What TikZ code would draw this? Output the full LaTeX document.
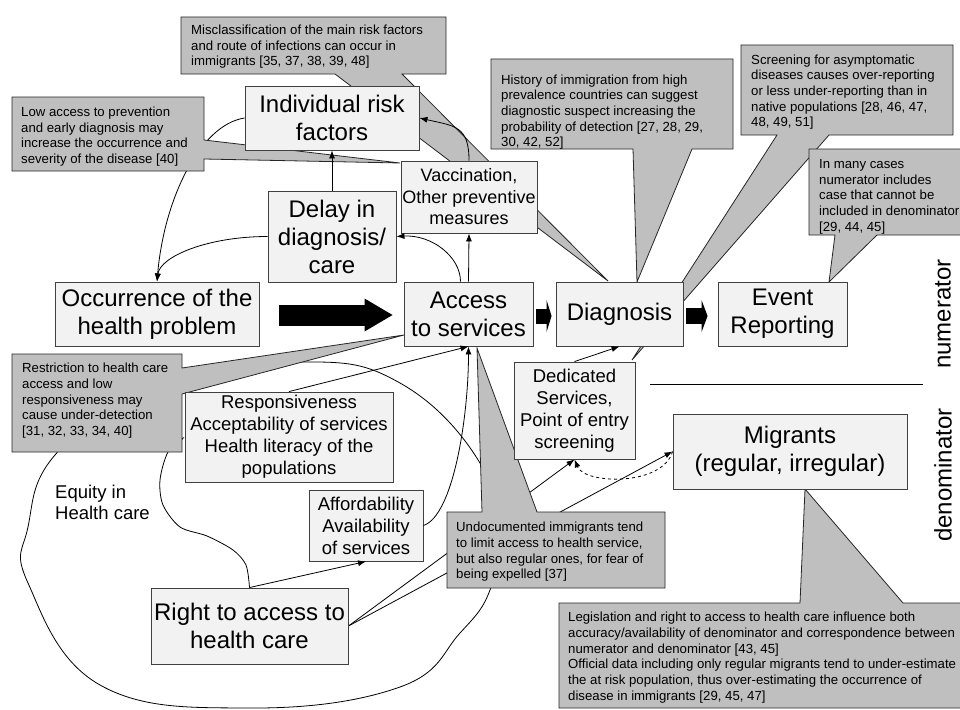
\documentclass[tikz,border=0pt]{standalone}
\usepackage{fontspec}
\setmainfont{Liberation Sans}
\usetikzlibrary{arrows.meta}

\pgfdeclarelayer{back}
\pgfdeclarelayer{notes}
\pgfsetlayers{back,notes,main}

\begin{document}
\begin{tikzpicture}[x=1pt, y=-1pt,
    box/.style={draw=black!75, line width=0.9pt, fill=gray!10, inner sep=0pt, align=center},
    bigtext/.style={font=\fontsize{24}{28}\selectfont},
    midtext/.style={font=\fontsize{18.5}{22}\selectfont},
    note/.style={draw=black!85, line width=0.8pt, fill=gray!50},
    notetext/.style={font=\fontsize{13.2}{15.7}\selectfont, align=left, inner sep=0pt, anchor=base west},
    link/.style={line width=0.8pt, -{Latex[length=8pt,width=6pt]}}]
		\useasboundingbox (0,0) rectangle (960,709);

		% boxes
		\node[box, bigtext, minimum width=174pt, minimum height=64pt] (risk) at (332,118) {Individual risk\\factors};
		\node[box, bigtext, minimum width=128pt, minimum height=91pt] (delay) at (332,236.5) {Delay in\\diagnosis/\\care};
		\node[box, font=\fontsize{18}{21.5}\selectfont, minimum width=136pt, minimum height=72pt] (vacc) at (469,197) {Vaccination,\\Other preventive\\measures};
		\node[box, bigtext, minimum width=204pt, minimum height=64pt] (occur) at (157,314) {Occurrence of the\\health problem};
		\node[box, bigtext, minimum width=129pt, minimum height=64pt] (access) at (468.5,314) {Access\\to services};
		\node[box, bigtext, minimum width=127pt, minimum height=64pt] (diag) at (619.5,314) {Diagnosis};
		\node[box, bigtext, minimum width=129pt, minimum height=64pt] (event) at (782.5,314) {Event\\Reporting};
		\node[box, midtext, minimum width=121pt, minimum height=97pt] (dedic) at (574.5,410.5) {Dedicated\\Services,\\Point of entry\\screening};
		\node[box, bigtext, minimum width=234pt, minimum height=75pt] (migr) at (790,451.5) {Migrants\\(regular, irregular)};
		\node[box, midtext, minimum width=208pt, minimum height=90pt] (resp) at (289,437) {Responsiveness\\Acceptability of services\\Health literacy of the\\populations};
		\node[box, midtext, minimum width=114pt, minimum height=71pt] (afford) at (366,525.5) {Affordability\\Availability\\of services};
		\node[box, bigtext, minimum width=197pt, minimum height=76pt] (right) at (249.5,626) {Right to access to\\health care};

		\node[font=\fontsize{18.5}{21}\selectfont, align=left, inner sep=0pt, anchor=base west] (equity) at (55,519.5) {Equity in\\Health care};
		\node[bigtext, rotate=90, inner sep=0pt] (num) at (943,314) {numerator};
		\node[bigtext, rotate=90, inner sep=0pt] (den) at (943,475) {denominator};
		\draw[line width=0.8pt] (650,384) -- (923,384);

		% callouts (text placed by the baseline of its last line)
		\begin{pgfonlayer}{notes}
		\draw[note] (181,17) -- (446,17) -- (446,74) -- (402,74) -- (608,281) -- (335,74) -- (181,74) -- cycle;
		\node[notetext] (misnote) at (191,65.9) {Misclassification of the main risk factors\\and route of infections can occur in\\immigrants [35, 37, 38, 39, 48]};
		\draw[note] (12,97) -- (204,97) -- (204,140) -- (400,163) -- (204,159) -- (204,171) -- (12,171) -- cycle;
		\node[notetext] (lownote) at (21,163.6) {Low access to prevention\\and early diagnosis may\\increase the occurrence and\\severity of the disease [40]};
		\draw[note] (491,59) -- (733,59) -- (733,149) -- (692,149) -- (637,282) -- (633,149) -- (491,149) -- cycle;
		\node[notetext] (histnote) at (501,146.8) {History of immigration from high\\prevalence countries can suggest\\diagnostic suspect increasing the\\probability of detection [27, 28, 29,\\30, 42, 52]};
		\draw[note] (741,45) -- (953,45) -- (953,135) -- (829,135) -- (632,360) -- (777,135) -- (741,135) -- cycle;
		\node[notetext] (scrnote) at (751,126.8) {Screening for asymptomatic\\diseases causes over-reporting\\or less under-reporting than in\\native populations [28, 46, 47,\\48, 49, 51]};
		\draw[note] (809,149) -- (962,149) -- (962,235) -- (877,235) -- (829,282) -- (835,235) -- (809,235) -- cycle;
		\node[notetext] (casenote) at (819,231.1) {In many cases\\numerator includes\\case that cannot be\\included in denominator\\{}[29, 44, 45]};
		\draw[note] (12,354) -- (182,354) -- (182,368) -- (404,335) -- (182,394) -- (182,452) -- (12,452) -- cycle;
		\node[notetext] (restnote) at (22,435.5) {Restriction to health care\\access and low\\responsiveness may\\cause under-detection\\{}[31, 32, 33, 34, 40]};
		\draw[note] (447,512) -- (482,512) -- (477,348) -- (537,512) -- (665,512) -- (665,588) -- (447,588) -- cycle;
		\node[notetext] (undocnote) at (456,578.8) {Undocumented immigrants tend\\to limit access to health service,\\but also regular ones, for fear of\\being expelled [37]};
		\draw[note] (559,603) -- (800,603) -- (805,489) -- (903,603) -- (962,603) -- (962,708) -- (559,708) -- cycle;
		\node[notetext] (legnote) at (568,700.2) {Legislation and right to access to health care influence both\\accuracy/availability of denominator and correspondence between\\numerator and denominator [43, 45]\\Official data including only regular migrants tend to under-estimate\\the at risk population, thus over-estimating the occurrence of\\disease in immigrants [29, 45, 47]};
		\end{pgfonlayer}

		% links running behind the callouts
		\begin{pgfonlayer}{back}
		\draw[line width=0.8pt] plot[smooth cycle, tension=0.7] coordinates {(300,362) (400,383) (480,463) (495,540) (490,590) (460,633) (400,687) (250,708) (100,685) (28,583) (28,527) (55,455) (150,385)};
		\draw[link] plot[smooth] coordinates {(right.north) (246,565) (233,550) (207,536) (180,527) (163,505) (160,480) (168,452) (resp.west)};
		\draw[link] (risk.west) .. controls +(-45,7) and +(7,-82) .. (occur.north);
		\draw[link] (right.east) -- (dedic.south);
		\draw[link] (right.east) -- (migr.west);
		\end{pgfonlayer}

		\draw[link] (delay.west) .. controls +(-60,0) and +(3,-25) .. (occur.north);
		\draw[link] (vacc.north) .. controls +(0,-35) and +(35,8) .. (risk.east);
		\draw[link] (delay.north) -- (risk.south);
		\draw[link] ([xshift=-8pt]access.north) .. controls +(0,-25) and +(35,-2) .. (delay.east);
		\draw[link] (access.north) -- (vacc.south);
		\draw[link] (dedic.north) -- (diag.south);
		\draw[link] (resp.north) -- (access.south);
		\draw[link] (afford.east) .. controls +(30,-10) and +(0,70) .. (access.south);
		\draw[link] (right.north) -- (afford.south);
		\draw[link, dashed] (migr.west) .. controls +(-10,35) and +(10,25) .. (dedic.south);

		% block arrows
		\draw[line width=21pt, -{Triangle[length=28pt,width=33pt,line width=0pt]}] ([xshift=20pt,yshift=-1pt]occur.east) -- ([xshift=-11pt,yshift=-1pt]access.west);
		\draw[line width=15pt, -{Triangle[length=5pt,width=32pt,line width=0pt]}] ([xshift=3pt,yshift=-2pt]access.east) -- ([xshift=-4pt,yshift=-2pt]diag.west);
		\draw[line width=16pt, -{Triangle[length=6pt,width=32pt,line width=0pt]}] ([xshift=3pt,yshift=-2pt]diag.east) -- ([xshift=-10pt,yshift=-2pt]event.west);
	\end{tikzpicture}
\end{document}
